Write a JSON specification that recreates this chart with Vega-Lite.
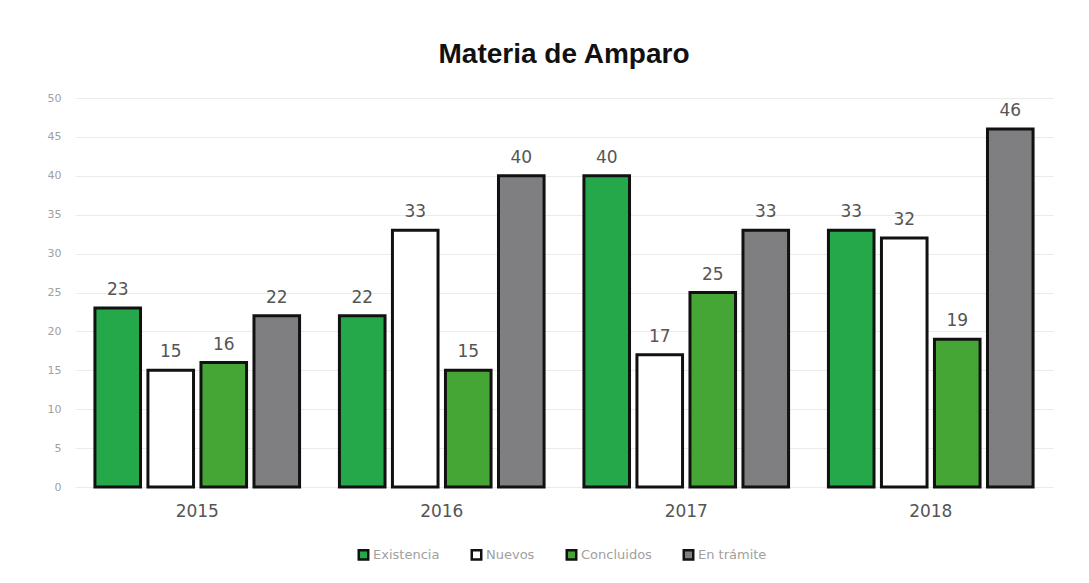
{
  "$schema": "https://vega.github.io/schema/vega-lite/v6.json",
  "autosize": "none",
  "width": 978,
  "height": 389,
  "padding": {"left": 75, "top": 98, "right": 36, "bottom": 96},
  "background": "white",
  "title": {"text": "Materia de Amparo", "font": "Liberation Sans", "fontSize": 28, "fontWeight": "bold", "color": "#111111", "anchor": "middle", "offset": 23},
  "data": {"values": [
    {"year": "2015", "tipo": "Existencia", "v": 23},
    {"year": "2015", "tipo": "Nuevos", "v": 15},
    {"year": "2015", "tipo": "Concluidos", "v": 16},
    {"year": "2015", "tipo": "En trámite", "v": 22},
    {"year": "2016", "tipo": "Existencia", "v": 22},
    {"year": "2016", "tipo": "Nuevos", "v": 33},
    {"year": "2016", "tipo": "Concluidos", "v": 15},
    {"year": "2016", "tipo": "En trámite", "v": 40},
    {"year": "2017", "tipo": "Existencia", "v": 40},
    {"year": "2017", "tipo": "Nuevos", "v": 17},
    {"year": "2017", "tipo": "Concluidos", "v": 25},
    {"year": "2017", "tipo": "En trámite", "v": 33},
    {"year": "2018", "tipo": "Existencia", "v": 33},
    {"year": "2018", "tipo": "Nuevos", "v": 32},
    {"year": "2018", "tipo": "Concluidos", "v": 19},
    {"year": "2018", "tipo": "En trámite", "v": 46}
  ]},
  "encoding": {
    "x": {"field": "year", "type": "nominal", "title": null,
      "scale": {"paddingInner": 0.15, "paddingOuter": 0.075},
      "axis": {"labelAngle": 0, "labelFont": "DejaVu Sans", "labelFontSize": 17, "labelColor": "#555555", "labelPadding": 16, "domain": false, "ticks": false}},
    "xOffset": {"field": "tipo", "type": "nominal", "sort": ["Existencia", "Nuevos", "Concluidos", "En trámite"], "scale": {"paddingInner": 0.14, "paddingOuter": 0.03}},
    "y": {"field": "v", "type": "quantitative", "title": null,
      "scale": {"domain": [0, 50]},
      "axis": {"values": [0,5,10,15,20,25,30,35,40,45,50], "labelFont": "DejaVu Sans", "labelFontSize": 11, "labelColor": "#a0a0a0", "labelPadding": 14, "domain": false, "ticks": false, "gridColor": "#ebebeb", "gridWidth": 1}}
  },
  "layer": [
    {
      "mark": {"type": "bar", "stroke": "#111111", "strokeWidth": 3},
      "encoding": {
        "color": {"field": "tipo", "type": "nominal", "sort": ["Existencia", "Nuevos", "Concluidos", "En trámite"],
          "scale": {"domain": ["Existencia", "Nuevos", "Concluidos", "En trámite"], "range": ["#24a84a", "#ffffff", "#45a635", "#7f7e80"]},
          "legend": {"orient": "none", "legendX": 282, "legendY": 450, "title": null, "direction": "horizontal", "symbolType": "square", "symbolSize": 90, "symbolStrokeColor": "#111111", "symbolStrokeWidth": 2.5, "labelFont": "DejaVu Sans", "labelFontSize": 13, "labelColor": "#a0a0a0", "columnPadding": 26, "labelOffset": 3}}
      }
    },
    {
      "mark": {"type": "text", "dy": -18, "font": "DejaVu Sans", "fontSize": 17, "color": "#555555"},
      "encoding": {"text": {"field": "v", "type": "quantitative"}}
    }
  ],
  "config": {"view": {"stroke": null}}
}
